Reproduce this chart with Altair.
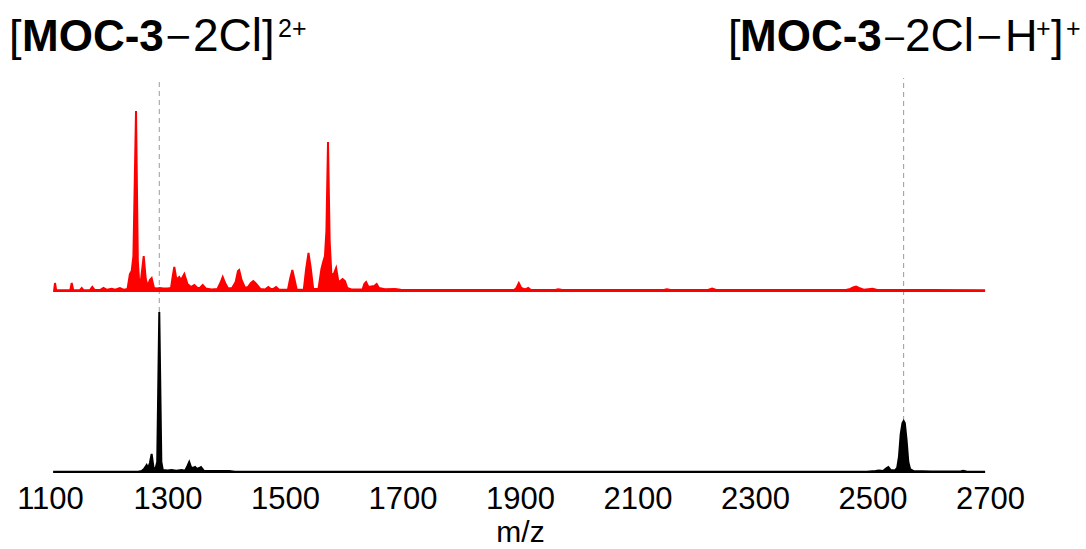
import altair as alt
import pandas as pd

# ---- data (relative intensities) ----
red_mz = [1107, 1108.5, 1110.5, 1134.5, 1137, 1139.5, 1151, 1154, 1157, 1168, 1172, 1176,
          1185, 1191, 1197, 1205, 1211, 1219, 1226, 1232, 1236, 1239, 1242, 1246.4, 1249.5,
          1252, 1255, 1259.5, 1263, 1266, 1270, 1273, 1277, 1282, 1287, 1293, 1300, 1306,
          1309, 1311.6, 1315, 1318, 1320, 1323, 1328.6, 1334, 1340, 1345.6, 1351, 1355, 1360,
          1365, 1375, 1385, 1390, 1394, 1398, 1403, 1410, 1416, 1420, 1422, 1426, 1432, 1437,
          1442, 1446, 1451, 1458, 1466, 1471.6, 1476, 1480, 1484.7, 1490, 1505, 1509, 1512.5,
          1516, 1520, 1532, 1536, 1540, 1544, 1548, 1557, 1562, 1565, 1568, 1570.5, 1573.2,
          1576, 1579, 1583, 1587, 1591, 1594, 1598, 1602, 1606, 1613, 1632, 1635, 1638, 1642,
          1647, 1652, 1656, 1660, 1670, 1687, 1697, 1760, 1850, 1890, 1894, 1898, 1902, 1909,
          1914, 1918, 1960, 1965, 1972, 2145, 2150, 2156, 2220, 2227, 2234, 2455, 2462, 2467,
          2472, 2477, 2485, 2500, 2508, 2600, 2690]
red_int = [0.5, 8, 0.8, 0.8, 8, 0.8, 0.8, 3, 0.8, 0.8, 4, 1,
           1, 3, 1.2, 2.2, 1.2, 3, 1.2, 2, 17, 20, 35, 180, 30,
           7, 12, 35, 12, 5, 11, 13, 3, 2.5, 3, 2.5, 2.5, 3,
           15, 24, 12, 13, 14, 11, 17, 7, 4, 6, 3, 3, 6,
           2.5, 1.5, 2, 8, 14, 8, 2.5, 3, 9, 20, 21, 11, 3, 4,
           8, 10, 7, 2, 1.5, 4, 2, 2, 4, 1.2, 1.2, 13, 21,
           12, 1.2, 1.5, 22, 38, 22, 2, 2, 22, 29, 35, 60, 149,
           50, 16, 17, 23, 9, 10, 12, 10, 3, 1.5, 1.5, 7, 9, 4,
           4.5, 5, 7, 3, 1.8, 2, 1.2, 1, 1, 1, 3, 8, 3, 1.5,
           3, 1.2, 1, 1.8, 1, 1, 1.8, 1, 1, 2.5, 1, 1, 2, 3.5,
           4.5, 3, 1.2, 2.2, 1, 1, 0.8]

black_mz = [1107, 1250, 1256, 1260, 1264.5, 1267, 1270, 1273, 1276, 1279, 1282.5, 1286,
            1289.5, 1292, 1300, 1307, 1315, 1324, 1330, 1334, 1337, 1340, 1343, 1347, 1350,
            1354, 1357, 1362, 1380, 1405, 1415, 2490, 2505, 2511, 2518, 2524, 2527, 2531,
            2538, 2542, 2545, 2548, 2551, 2553, 2555, 2558, 2561, 2564, 2570, 2600, 2650,
            2654, 2660, 2690]
black_int = [0.3, 0.3, 1, 3, 7, 4, 9, 18, 5, 2, 10, 160,
             10, 2, 1.5, 2, 1.2, 2, 1.2, 6, 10, 5, 4, 5, 3,
             4, 5, 1.2, 1, 1, 0.3, 0.3, 1, 1.5, 1, 4, 5, 2,
             1.5, 4, 15, 38, 49, 51, 49, 32, 10, 3, 1, 0.5, 0.5,
             1.2, 0.5, 0.3]

marker_mz = [1286, 2553]
marker_top = [160, 51]
x_ticks = [1100, 1300, 1500, 1700, 1900, 2100, 2300, 2500, 2700]

red_df = pd.DataFrame({"mz": red_mz, "intensity": red_int})
black_df = pd.DataFrame({"mz": black_mz, "intensity": black_int})
mark_df = pd.DataFrame({"mz": marker_mz, "top": marker_top})

FONT = "Liberation Sans"
xs = alt.Scale(domain=[1100, 2700], nice=False, zero=False)
x_axis = alt.Axis(values=x_ticks, format="d", labelFont=FONT, labelFontSize=31,
                  labelColor="black", ticks=False, domain=False, grid=False,
                  labelPadding=12, labelFlush=False, title="m/z", titleFont=FONT,
                  titleFontSize=30, titleFontWeight="normal", titleColor="black",
                  titlePadding=3)

rules = alt.Chart(mark_df).mark_rule(color="#9a9a9a", strokeDash=[5, 4], strokeWidth=1).encode(
    x=alt.X("mz:Q", scale=xs, axis=x_axis),
    y=alt.Y("top:Q", scale=alt.Scale(domain=[0, 472], nice=False, zero=False), axis=None),
    y2=alt.value(78),
)

red = alt.Chart(red_df).mark_area(color="#ff0000", stroke="#ff0000", strokeWidth=2,
                                  interpolate="linear").encode(
    x=alt.X("mz:Q", scale=xs, axis=x_axis),
    y=alt.Y("intensity:Q", scale=alt.Scale(domain=[-181, 291], nice=False, zero=False), axis=None),
)

black = alt.Chart(black_df).mark_area(color="#000000", stroke="#000000", strokeWidth=2,
                                      interpolate="linear").encode(
    x=alt.X("mz:Q", scale=xs, axis=x_axis),
    y=alt.Y("intensity:Q", scale=alt.Scale(domain=[0, 472], nice=False, zero=False), axis=None),
)


def piece(txt, x, y, size=45, bold=False, font=FONT):
    return alt.Chart(alt.Data(values=[{}])).mark_text(
        font=font, fontSize=size, fontWeight="bold" if bold else "normal",
        align="left", baseline="alphabetic", color="black"
    ).encode(x=alt.value(x - 50), y=alt.value(y), text=alt.value(txt))


MINUS = "\u2212"
texts = [
    # left label  [MOC-3−2Cl]2+
    piece("[", 9, 51), piece("MOC-3", 22, 51, size=44, bold=True),
    piece(MINUS, 164, 48, size=34, font="DejaVu Sans"),
    piece("2Cl", 193, 51, size=46), piece("]", 262, 51), piece("2+", 278, 37, size=25),
    # right label  [MOC-3−2Cl−H+]+
    piece("[", 728, 51), piece("MOC-3", 740, 51, size=44, bold=True),
    piece(MINUS, 882, 48, size=30, font="DejaVu Sans"),
    piece("2Cl", 905, 51, size=46),
    piece(MINUS, 975, 48, size=34, font="DejaVu Sans"),
    piece("H", 1005, 51), piece("+", 1036, 37, size=25),
    piece("]", 1051, 51), piece("+", 1066, 37, size=25),
]

chart = alt.layer(rules, red, black, *texts).resolve_scale(y="independent").properties(
    width=940, height=472,
    padding={"left": 50, "top": 0, "right": 96, "bottom": 77},
    autosize=alt.AutoSizeParams(type="none"),
    background="white",
).configure_view(strokeWidth=0)

chart.save("out.html", embed_options={"renderer": "svg", "actions": False})
